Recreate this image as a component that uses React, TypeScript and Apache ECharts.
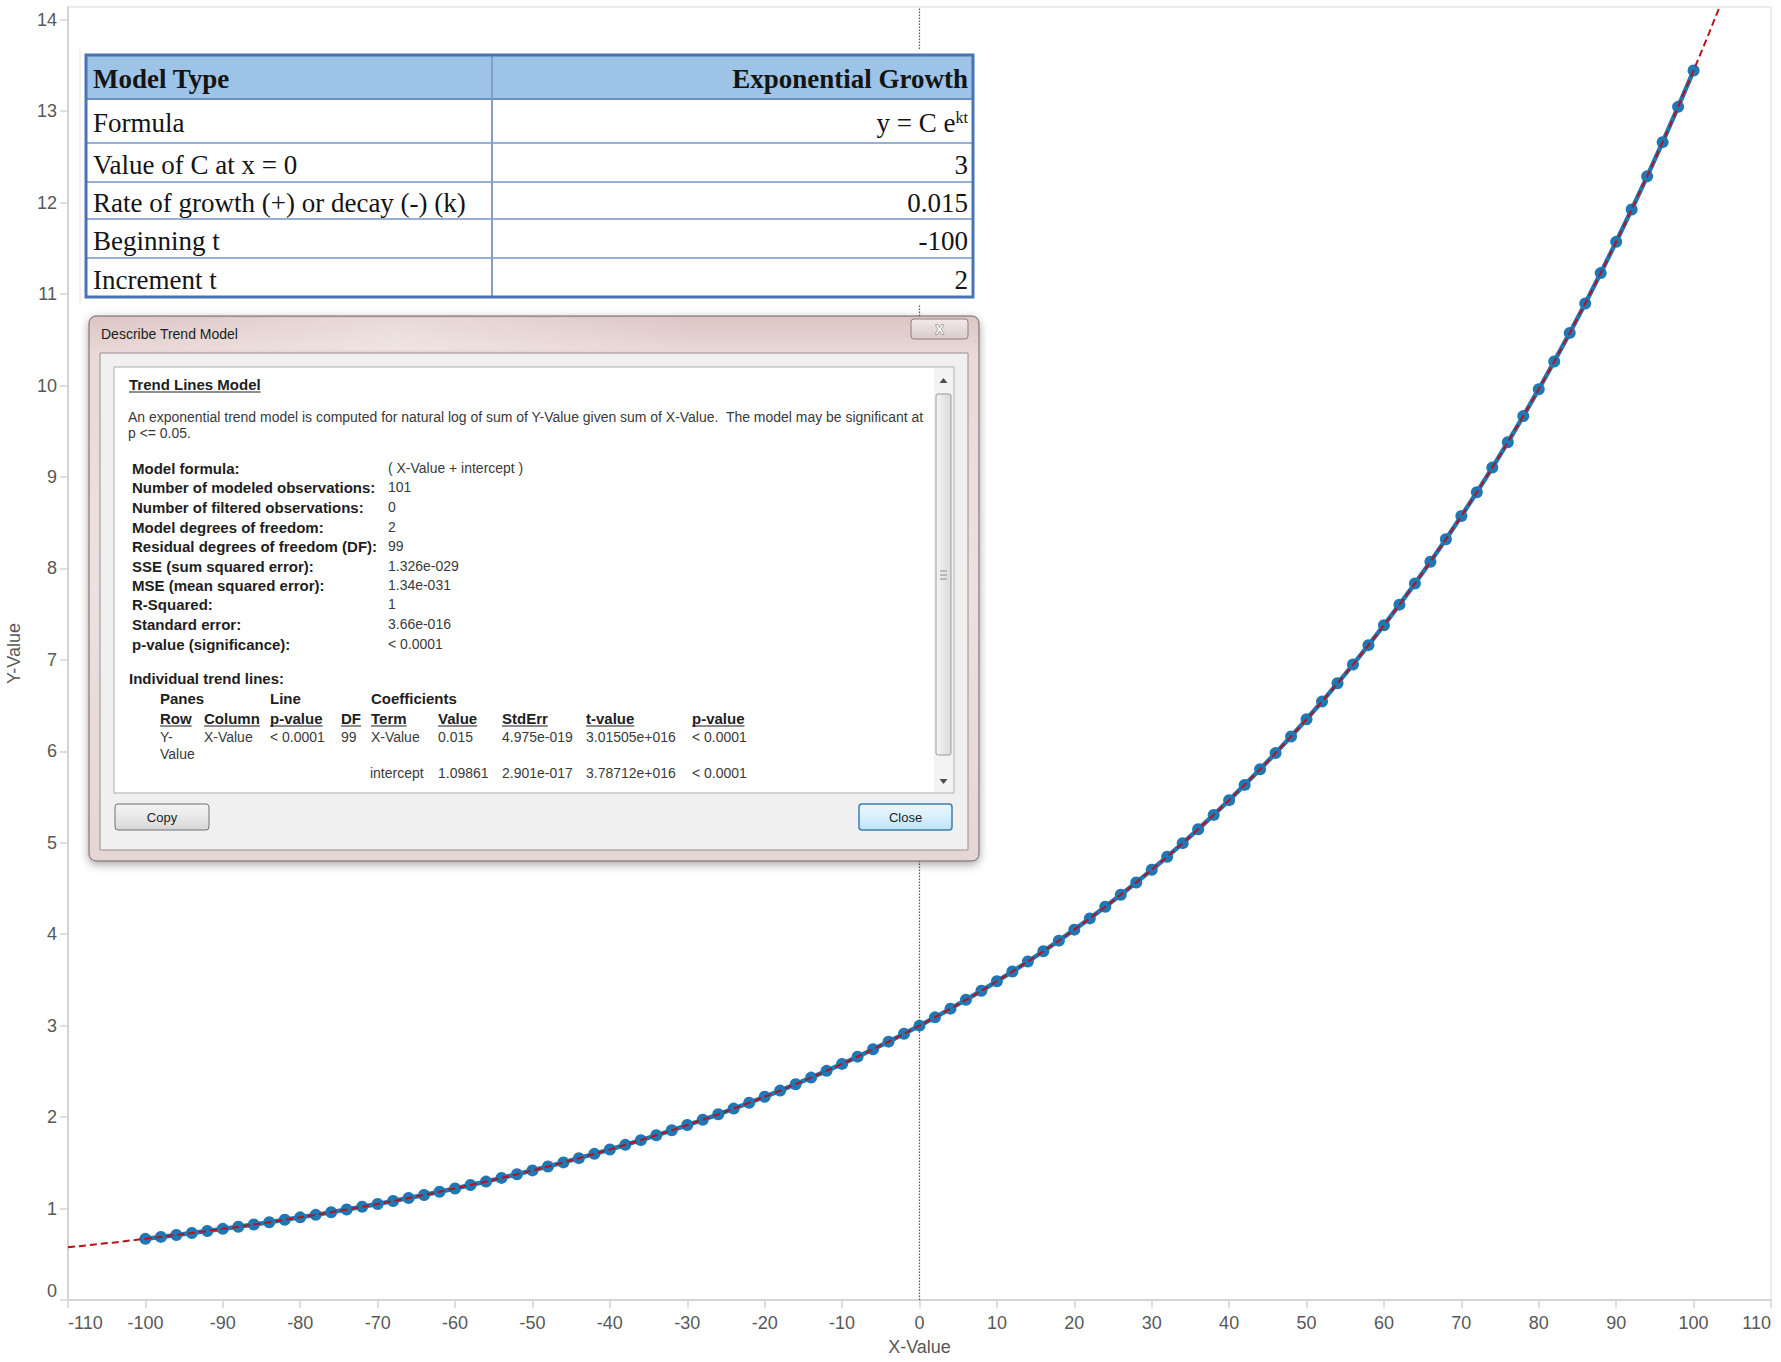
import React, { useEffect, useRef } from "react";
import * as echarts from "echarts";

// ---------------- data ----------------
const xValues = [
  -100, -98, -96, -94, -92, -90, -88, -86, -84, -82, -80, -78, -76, -74, -72, -70, -68, -66, -64, -62,
  -60, -58, -56, -54, -52, -50, -48, -46, -44, -42, -40, -38, -36, -34, -32, -30, -28, -26, -24, -22,
  -20, -18, -16, -14, -12, -10, -8, -6, -4, -2, 0, 2, 4, 6, 8, 10, 12, 14, 16, 18,
  20, 22, 24, 26, 28, 30, 32, 34, 36, 38, 40, 42, 44, 46, 48, 50, 52, 54, 56, 58,
  60, 62, 64, 66, 68, 70, 72, 74, 76, 78, 80, 82, 84, 86, 88, 90, 92, 94, 96, 98, 100,
];
const yValues = [
  0.669, 0.69, 0.711, 0.732, 0.755, 0.778, 0.801, 0.826, 0.851, 0.877, 0.904, 0.931, 0.959, 0.989, 1.019,
  1.05, 1.082, 1.115, 1.149, 1.184, 1.22, 1.257, 1.295, 1.335, 1.375, 1.417, 1.46, 1.505, 1.551, 1.598,
  1.646, 1.697, 1.748, 1.801, 1.856, 1.913, 1.971, 2.031, 2.093, 2.157, 2.222, 2.29, 2.36, 2.432, 2.506,
  2.582, 2.661, 2.742, 2.825, 2.911, 3.0, 3.091, 3.186, 3.283, 3.382, 3.486, 3.592, 3.701, 3.814, 3.93,
  4.05, 4.173, 4.3, 4.431, 4.566, 4.705, 4.848, 4.996, 5.148, 5.305, 5.466, 5.633, 5.804, 5.981, 6.163,
  6.351, 6.544, 6.744, 6.949, 7.161, 7.379, 7.604, 7.835, 8.074, 8.32, 8.573, 8.834, 9.103, 9.38, 9.666,
  9.96, 10.264, 10.576, 10.898, 11.23, 11.572, 11.925, 12.288, 12.662, 13.048, 13.445,
];
// trend line extensions beyond the data
const trendHeadX = [-110, -108, -106, -104, -102];
const trendHeadY = [0.576, 0.594, 0.612, 0.63, 0.65];
const trendTailX = [102, 104];
const trendTailY = [13.855, 14.277];

const yTicks = [0, 1, 2, 3, 4, 5, 6, 7, 8, 9, 10, 11, 12, 13, 14];

// table overlay
const tableLabels = [
  "Model Type",
  "Formula",
  "Value of C at x = 0",
  "Rate of growth (+) or decay (-) (k)",
  "Beginning t",
  "Increment t",
];
const tableValues = ["Exponential Growth", "FORMULA", "3", "0.015", "-100", "2"];

// dialog overlay
const dialogTitle = "Describe Trend Model";
const modelHeading = "Trend Lines Model";
const modelText1 =
  "An exponential trend model is computed for natural log of sum of Y-Value given sum of X-Value.  The model may be significant at";
const modelText2 = "p <= 0.05.";
const statLabels = [
  "Model formula:",
  "Number of modeled observations:",
  "Number of filtered observations:",
  "Model degrees of freedom:",
  "Residual degrees of freedom (DF):",
  "SSE (sum squared error):",
  "MSE (mean squared error):",
  "R-Squared:",
  "Standard error:",
  "p-value (significance):",
];
const statValues = [
  "( X-Value + intercept )",
  "101",
  "0",
  "2",
  "99",
  "1.326e-029",
  "1.34e-031",
  "1",
  "3.66e-016",
  "< 0.0001",
];
const groupHeaders = ["Panes", "Line", "Coefficients"];
const coefHeaders = ["Row", "Column", "p-value", "DF", "Term", "Value", "StdErr", "t-value", "p-value"];
const coefRow1 = ["Y-", "X-Value", "< 0.0001", "99", "X-Value", "0.015", "4.975e-019", "3.01505e+016", "< 0.0001"];
const coefRow1b = ["Value"];
const coefRow2 = ["intercept", "1.09861", "2.901e-017", "3.78712e+016", "< 0.0001"];

// ---------------- helpers ----------------
const UI = '"Liberation Sans", Arial, sans-serif';
const SERIF = '"Liberation Serif", "Times New Roman", serif';
const ZB = 100;

let measureCtx: any = null;
function measure(text: string, font: string) {
  if (!measureCtx) measureCtx = document.createElement("canvas").getContext("2d");
  measureCtx.font = font;
  return measureCtx.measureText(text).width;
}
function fitSize(text: string, weight: string, family: string, target: number, lo: number, hi: number) {
  const w = measure(text, `${weight} 20px ${family}`);
  const s = (20 * target) / w;
  return Math.max(lo, Math.min(hi, s));
}

function R(x: number, y: number, w: number, h: number, style: any, r: number = 0, z: number = ZB) {
  return { type: "rect", z, silent: true, shape: { x, y, width: w, height: h, r }, style };
}
function L(x1: number, y1: number, x2: number, y2: number, stroke: string, lw: number, z: number = ZB + 2) {
  return { type: "line", z, silent: true, shape: { x1, y1, x2, y2 }, style: { stroke, lineWidth: lw } };
}
function T(x: number, y: number, text: string, o: any = {}) {
  const align = o.align || "left";
  return {
    type: "text",
    z: ZB + 5,
    silent: true,
    x,
    y,
    style: {
      text,
      fontFamily: o.ff || UI,
      fontSize: o.fs || 13,
      fontWeight: o.fw || "normal",
      fill: o.fill || "#2a2a2a",
      stroke: o.stroke,
      lineWidth: o.lw,
      align,
      textAlign: align,
      verticalAlign: "middle",
      textVerticalAlign: "middle",
      rich: o.rich,
    },
  };
}

function buildGraphics() {
  const els: any[] = [];

  // ---------- Excel table ----------
  const rowB = [55, 99, 143, 182, 219, 258, 297];
  const tl = 86, tr = 973, colX = 492;
  els.push(R(80, 49, 904, 255, { fill: "#ffffff" }, 0, ZB - 1));
  els.push(L(80, 49, 80, 304, "#e4e4e4", 1, ZB - 1));
  els.push(R(tl, rowB[0], tr - tl, rowB[1] - rowB[0], { fill: "#9dc3e6" }));
  for (let i = 2; i < rowB.length - 1; i++) els.push(L(tl, rowB[i], tr, rowB[i], "#98b0d4", 2));
  els.push(L(tl, rowB[1], tr, rowB[1], "#6d90c4", 2));
  els.push(L(colX, rowB[0], colX, rowB[6], "#7f9fcd", 2));
  els.push(R(tl, rowB[0], tr - tl, rowB[6] - rowB[0], { fill: "none", stroke: "#4873b5", lineWidth: 3 }, 0, ZB + 3));
  const serifSize = fitSize(tableLabels[3], "normal", SERIF, 392, 21, 27);
  for (let i = 0; i < tableLabels.length; i++) {
    const cy = (rowB[i] + rowB[i + 1]) / 2 + 2;
    const fw = i === 0 ? "bold" : "normal";
    els.push(T(93, cy, tableLabels[i], { ff: SERIF, fs: serifSize, fw, fill: "#141414" }));
    if (tableValues[i] === "FORMULA") {
      els.push({
        type: "text",
        z: ZB + 5,
        silent: true,
        x: 968,
        y: cy,
        style: {
          text: "{m|y = C e}{s|kt}",
          align: "right",
          textAlign: "right",
          verticalAlign: "middle",
          textVerticalAlign: "middle",
          rich: {
            m: { fontFamily: SERIF, fontSize: serifSize, fill: "#141414", color: "#141414", verticalAlign: "bottom" },
            s: { fontFamily: SERIF, fontSize: serifSize * 0.6, fill: "#141414", color: "#141414", verticalAlign: "top" },
          },
        },
      });
    } else {
      els.push(T(968, cy, tableValues[i], { ff: SERIF, fs: serifSize, fw, fill: "#141414", align: "right" }));
    }
  }

  // ---------- Dialog ----------
  const frameGrad = {
    type: "linear", x: 0, y: 0, x2: 0, y2: 1,
    colorStops: [
      { offset: 0, color: "#dcc6c4" },
      { offset: 0.07, color: "#e9d9d7" },
      { offset: 0.5, color: "#ece1e0" },
      { offset: 1, color: "#e4d6d5" },
    ],
  };
  els.push(
    R(89, 316, 890, 545, {
      fill: frameGrad, stroke: "#6f6362", lineWidth: 1,
      shadowBlur: 10, shadowColor: "rgba(0,0,0,0.35)", shadowOffsetY: 3,
    }, 7)
  );
  // title bar highlight
  els.push(R(95, 318, 600, 32, {
    fill: { type: "linear", x: 0, y: 0, x2: 1, y2: 0, colorStops: [
      { offset: 0, color: "rgba(255,255,255,0.0)" },
      { offset: 0.5, color: "rgba(255,255,255,0.35)" },
      { offset: 1, color: "rgba(255,255,255,0.0)" },
    ] },
  }, 0, ZB + 1));
  // close (X) button
  els.push(R(911, 319, 57, 20, {
    fill: { type: "linear", x: 0, y: 0, x2: 0, y2: 1, colorStops: [
      { offset: 0, color: "#f3eaea" }, { offset: 1, color: "#d9cccb" },
    ] },
    stroke: "#8d7f7e", lineWidth: 1,
  }, 3, ZB + 2));
  const xT = T(939.5, 329, "X", { fs: 13, fw: "bold", fill: "#ffffff", stroke: "#6c6c6c", lw: 1 });
  xT.style.align = "center";
  xT.style.textAlign = "center";
  els.push(xT);
  els.push(T(101, 334, dialogTitle, { fs: 14, fill: "#1c1c1c" }));

  // client area
  els.push(R(100, 353, 868, 497, { fill: "#f0f0f0", stroke: "#9a8e8d", lineWidth: 1 }, 0, ZB + 1));
  els.push(R(114, 367, 840, 426, { fill: "#ffffff", stroke: "#a9abb2", lineWidth: 1 }, 0, ZB + 2));
  // scrollbar
  els.push(R(934, 368, 19, 424, { fill: "#f3f3f3" }, 0, ZB + 3));
  els.push(R(936, 394, 15, 361, {
    fill: { type: "linear", x: 0, y: 0, x2: 1, y2: 0, colorStops: [
      { offset: 0, color: "#f4f4f4" }, { offset: 1, color: "#dadada" },
    ] },
    stroke: "#9b9b9b", lineWidth: 1,
  }, 2, ZB + 4));
  [571, 575, 579].forEach((gy) => els.push(L(940, gy, 947, gy, "#8a8a8a", 1, ZB + 5)));
  els.push({ type: "polygon", z: ZB + 5, silent: true, shape: { points: [[939.5, 383], [947.5, 383], [943.5, 378]] }, style: { fill: "#4d4d4d" } });
  els.push({ type: "polygon", z: ZB + 5, silent: true, shape: { points: [[939.5, 779], [947.5, 779], [943.5, 784]] }, style: { fill: "#4d4d4d" } });

  // content
  const boldFs = fitSize(statLabels[4], "bold", UI, 251, 12, 15);
  const regFs = fitSize(modelText1, "normal", UI, 796, 11, 14.5);
  const boldFont = `bold ${boldFs}px ${UI}`;
  const dark = "#1e1e1e";
  const mid = "#3a3a3a";
  els.push(T(129, 384, modelHeading, { fs: boldFs, fw: "bold", fill: dark }));
  els.push(L(129, 392, 129 + measure(modelHeading, boldFont), 392, dark, 1, ZB + 6));
  els.push(T(128, 417, modelText1, { fs: regFs, fill: mid }));
  els.push(T(128, 433, modelText2, { fs: regFs, fill: mid }));
  const statY = [468, 487, 507, 527, 546, 566, 585, 604, 624, 644];
  for (let i = 0; i < statLabels.length; i++) {
    els.push(T(132, statY[i], statLabels[i], { fs: boldFs, fw: "bold", fill: dark }));
    els.push(T(388, statY[i], statValues[i], { fs: regFs, fill: mid }));
  }
  els.push(T(129, 678, "Individual trend lines:", { fs: boldFs, fw: "bold", fill: dark }));
  const gX = [160, 270, 371];
  groupHeaders.forEach((g, i) => els.push(T(gX[i], 698, g, { fs: boldFs, fw: "bold", fill: dark })));
  const cX = [160, 204, 270, 341, 371, 438, 502, 586, 692];
  coefHeaders.forEach((h, i) => {
    els.push(T(cX[i], 718, h, { fs: boldFs, fw: "bold", fill: dark }));
    els.push(L(cX[i], 726, cX[i] + measure(h, boldFont), 726, dark, 1, ZB + 6));
  });
  coefRow1.forEach((v, i) => els.push(T(cX[i], 737, v, { fs: regFs, fill: mid })));
  els.push(T(cX[0], 754, coefRow1b[0], { fs: regFs, fill: mid }));
  coefRow2.forEach((v, i) => els.push(T(cX[i + 4] - (i === 0 ? 1 : 0), 773, v, { fs: regFs, fill: mid })));

  // buttons
  els.push(R(115, 804, 94, 26, {
    fill: { type: "linear", x: 0, y: 0, x2: 0, y2: 1, colorStops: [
      { offset: 0, color: "#f4f4f4" }, { offset: 0.5, color: "#e8e8e8" }, { offset: 1, color: "#d6d6d6" },
    ] },
    stroke: "#707070", lineWidth: 1,
  }, 3, ZB + 2));
  const copyT = T(162, 817, "Copy", { fs: 13, fill: "#1e1e1e" });
  copyT.style.align = "center"; copyT.style.textAlign = "center";
  els.push(copyT);
  els.push(R(859, 804, 93, 26, {
    fill: { type: "linear", x: 0, y: 0, x2: 0, y2: 1, colorStops: [
      { offset: 0, color: "#eaf6fd" }, { offset: 0.5, color: "#d9f0fc" }, { offset: 1, color: "#bde3f7" },
    ] },
    stroke: "#3c7fb1", lineWidth: 1.5,
  }, 3, ZB + 2));
  const closeT = T(905.5, 817, "Close", { fs: 13, fill: "#1e1e1e" });
  closeT.style.align = "center"; closeT.style.textAlign = "center";
  els.push(closeT);

  return els;
}

export default function App() {
  const ref = useRef<HTMLDivElement>(null);
  useEffect(() => {
    const chart = echarts.init(ref.current!, null, { renderer: "svg" });
    const mainData = xValues.map((x, i) => [x, yValues[i]]);
    const trendData = [
      ...trendHeadX.map((x, i) => [x, trendHeadY[i]]),
      ...mainData,
      ...trendTailX.map((x, i) => [x, trendTailY[i]]),
    ];
    const axisLabelStyle = { color: "#585858", fontSize: 18, fontFamily: UI };
    const option: any = {
      animation: false,
      backgroundColor: "#ffffff",
      grid: {
        left: 68, right: 10, top: 7, bottom: 62,
        show: true, borderColor: "#d9d9d9", borderWidth: 1,
        containLabel: false, outerBoundsMode: "none",
      },
      xAxis: {
        type: "value",
        min: -110, max: 110, interval: 10,
        name: "X-Value", nameLocation: "middle", nameGap: 38,
        nameTextStyle: { color: "#585858", fontSize: 18, fontFamily: UI },
        axisLine: { show: true, onZero: false, lineStyle: { color: "#d4d4d4", width: 2 } },
        axisTick: { show: true, length: 8, lineStyle: { color: "#d4d4d4", width: 1.5 } },
        axisLabel: { ...axisLabelStyle, margin: 14, alignMinLabel: "left", alignMaxLabel: "right" },
        splitLine: { show: false },
      },
      yAxis: {
        type: "value",
        min: 0, max: 14.14,
        name: "Y-Value", nameLocation: "middle", nameGap: 45,
        nameTextStyle: { color: "#585858", fontSize: 18, fontFamily: UI },
        axisLine: { show: true, onZero: false, lineStyle: { color: "#d4d4d4", width: 2 } },
        axisTick: { show: true, length: 8, lineStyle: { color: "#d4d4d4", width: 1.5 }, customValues: yTicks },
        axisLabel: { ...axisLabelStyle, margin: 11, customValues: yTicks, verticalAlignMinLabel: "bottom" },
        splitLine: { show: false },
      },
      series: [
        {
          type: "line",
          name: "Y-Value",
          data: mainData,
          symbol: "circle",
          symbolSize: 12,
          showAllSymbol: true,
          lineStyle: { color: "#1f77b4", width: 4.5 },
          itemStyle: { color: "#1f77b4" },
          z: 3,
          markLine: {
            silent: true,
            symbol: ["none", "none"],
            label: { show: false },
            lineStyle: { color: "#555555", type: [1.5, 1.5], width: 1.2 },
            data: [{ xAxis: 0 }],
          },
        },
        {
          type: "line",
          name: "Trend",
          data: trendData,
          symbol: "none",
          lineStyle: { color: "#b8121b", width: 2, type: [7, 4] },
          z: 4,
        },
      ],
      graphic: { elements: buildGraphics() },
    };
    chart.setOption(option);
    return () => chart.dispose();
  }, []);
  return (
    <div
      ref={ref}
      style={{ position: "fixed", left: 0, top: 0, width: 1781, height: 1362, background: "#fff" }}
    />
  );
}
